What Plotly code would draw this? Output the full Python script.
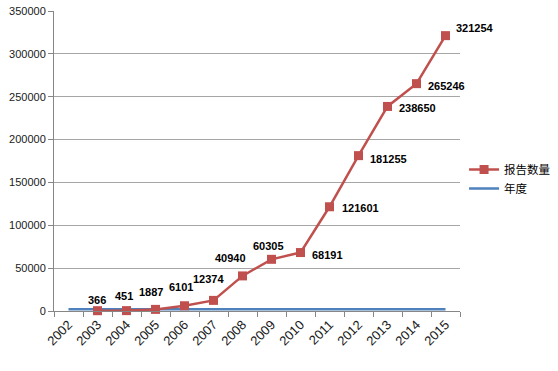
import plotly.graph_objects as go

years = ["2002", "2003", "2004", "2005", "2006", "2007", "2008",
         "2009", "2010", "2011", "2012", "2013", "2014", "2015"]
report_counts = [None, 366, 451, 1887, 6101, 12374, 40940, 60305,
                 68191, 121601, 181255, 238650, 265246, 321254]
year_values = [2002, 2003, 2004, 2005, 2006, 2007, 2008,
               2009, 2010, 2011, 2012, 2013, 2014, 2015]

red = "#C0504D"
blue = "#4F81BD"

# label pixel offsets (style only)
label_dx = [0, -1, -3, -5, -4, -5, -12, -3, 27, 31, 30, 30, 30, 29]
label_dy = [0, 11, 15, 17, 19, 21, 18, 13, -2, -1, -3, -2, -2, 8]

fig = go.Figure()
fig.add_trace(go.Scatter(
    x=years, y=year_values, name="年度", mode="lines",
    line=dict(color=blue, width=2.5), legendrank=2,
))
fig.add_trace(go.Scatter(
    x=years, y=report_counts, name="报告数量", mode="lines+markers",
    line=dict(color=red, width=2.5),
    marker=dict(symbol="square", size=9, color=red),
    legendrank=1, cliponaxis=False,
))

for i, v in enumerate(report_counts):
    if v is None:
        continue
    fig.add_annotation(
        x=i, y=v, text=str(v), showarrow=False,
        xanchor="center", yanchor="middle",
        xshift=label_dx[i], yshift=label_dy[i],
        font=dict(family="Liberation Sans", size=11, color="#000000", weight="bold"),
    )

fig.update_layout(
    width=558, height=371,
    margin=dict(l=54, r=98, t=11, b=60, autoexpand=False),
    paper_bgcolor="white", plot_bgcolor="white",
    font=dict(family="Liberation Sans", size=11, color="#1a1a1a"),
    showlegend=True,
    legend=dict(x=1.01, xanchor="left", y=0.44, yanchor="middle",
                font=dict(family="Noto Sans CJK SC", size=11.5, color="#000000"),
                bgcolor="rgba(0,0,0,0)"),
    xaxis=dict(
        type="category", tickson="boundaries", ticks="outside", ticklen=5,
        tickcolor="#868686", showline=True, linecolor="#868686", linewidth=1,
        showgrid=False, tickangle=-45, tickfont=dict(size=13),
        range=[-0.5, 13.5], automargin=False,
    ),
    yaxis=dict(
        range=[0, 350000], dtick=50000, tickformat="d",
        ticks="outside", ticklen=5, tickcolor="#868686",
        showline=True, linecolor="#868686", linewidth=1,
        showgrid=True, gridcolor="#A6A6A6", gridwidth=1, zeroline=False,
        automargin=False,
    ),
)

fig.write_html(
    "out.html",
    config={"displayModeBar": False},
    post_script="document.body.style.margin='0';document.body.style.overflow='hidden';",
)
